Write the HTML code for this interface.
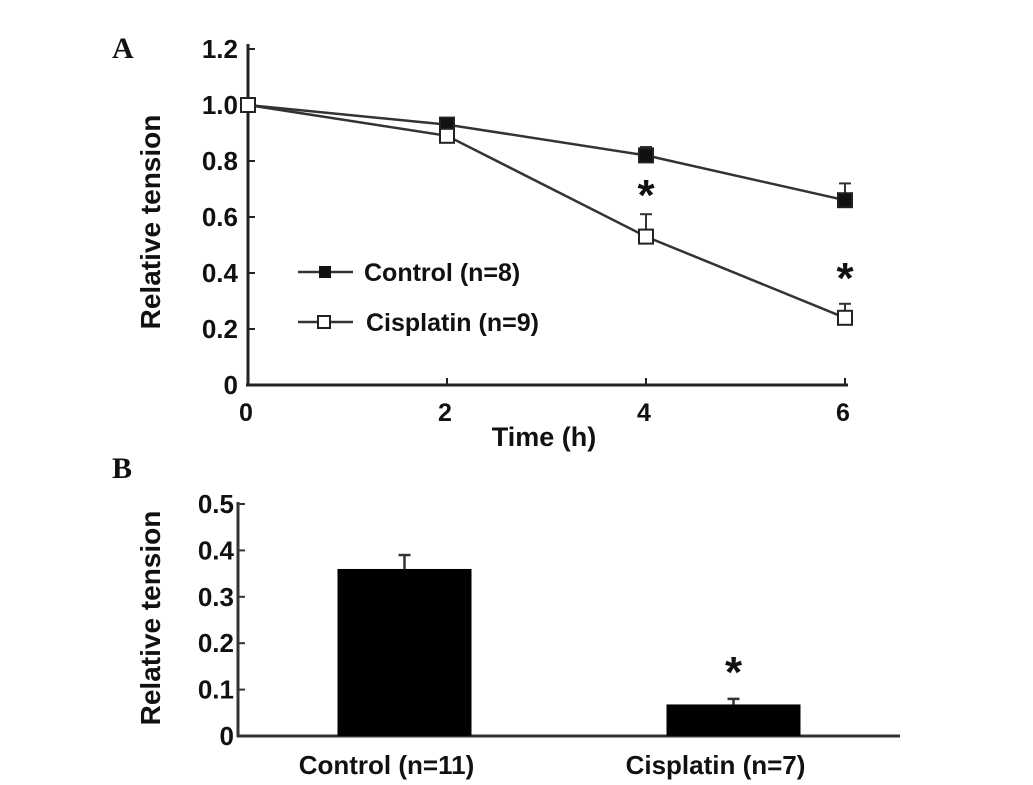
<!DOCTYPE html>
<html><head><meta charset="utf-8"><style>
body{margin:0;background:#fff;width:1033px;height:780px;overflow:hidden}
svg text{font-family:"Liberation Sans",Arial,sans-serif;font-weight:bold;fill:#111}
</style></head><body>
<svg id="chart" width="1033" height="780" xmlns="http://www.w3.org/2000/svg">
<text x="112" y="58" style="font-family:'Liberation Serif',serif;font-size:30px">A</text>
<text x="112" y="478" style="font-family:'Liberation Serif',serif;font-size:30px">B</text>
<g id="a"></g><g id="b"></g>
</svg>
<script>
const timeCats=[0,2,4,6];
const controlVals=[1.0,0.93,0.82,0.66];
const controlErr=[0,0.01,0.03,0.06];
const cisVals=[1.0,0.89,0.53,0.24];
const cisErr=[0,0.01,0.08,0.05];
const aYTicks=[0,0.2,0.4,0.6,0.8,1.0,1.2];
const aYLabels=["0","0.2","0.4","0.6","0.8","1.0","1.2"];
const barCats=["Control (n=11)","Cisplatin (n=7)"];
const barVals=[0.36,0.068];
const barErr=[0.03,0.012];
const bYTicks=[0,0.1,0.2,0.3,0.4,0.5];
const bYLabels=["0","0.1","0.2","0.3","0.4","0.5"];
const NS="http://www.w3.org/2000/svg";
function mk(p,t,a,txt){const e=document.createElementNS(NS,t);for(const k in a)e.setAttribute(k,a[k]);if(txt!==undefined)e.textContent=txt;p.appendChild(e);return e;}
// Panel A
const A=document.getElementById('a');
const ax=t=>248+t*(845-248)/6, ay=v=>385-v*(385-49)/1.2;
let e;
e=mk(A,'line',{x1:248,y1:44,x2:248,y2:386,stroke:'#222','stroke-width':3});

e=mk(A,'line',{x1:246,y1:385,x2:848,y2:385,stroke:'#222','stroke-width':3});

aYTicks.forEach((v,i)=>{mk(A,'line',{x1:248,y1:ay(v),x2:255,y2:ay(v),stroke:'#222','stroke-width':2});
e=mk(A,'text',{x:238,y:ay(v)+9,'text-anchor':'end','font-size':26},aYLabels[i]);
});
timeCats.forEach(t=>{mk(A,'line',{x1:ax(t),y1:385,x2:ax(t),y2:378,stroke:'#222','stroke-width':2});
e=mk(A,'text',{x:ax(t)-2,y:421,'text-anchor':'middle','font-size':25},String(t));
});
e=mk(A,'text',{x:544,y:446,'text-anchor':'middle','font-size':27},'Time (h)');

e=mk(A,'text',{x:0,y:0,'text-anchor':'middle','font-size':28,transform:'translate(160,222) rotate(-90)'},'Relative tension');

function series(vals,errs,filled,name){
 const pts=vals.map((v,i)=>ax(timeCats[i])+','+ay(v)).join(' ');
 e=mk(A,'polyline',{points:pts,fill:'none',stroke:'#333','stroke-width':2.5});
 
 vals.forEach((v,i)=>{const x=ax(timeCats[i]);
  if(errs[i]>0){mk(A,'line',{x1:x,y1:ay(v),x2:x,y2:ay(v+errs[i]),stroke:'#333','stroke-width':2});
   mk(A,'line',{x1:x-6,y1:ay(v+errs[i]),x2:x+6,y2:ay(v+errs[i]),stroke:'#333','stroke-width':2});}
  e=mk(A,'rect',{x:x-7,y:ay(v)-7,width:14,height:14,fill:filled?'#111':'#fff',stroke:'#222','stroke-width':2});
  });
}
series(controlVals,controlErr,true,'control');
series(cisVals,cisErr,false,'cisplatin');
[[4,cisVals[2]+cisErr[2]],[6,controlVals[3]+0.0]].forEach(([t,v],k)=>{
 e=mk(A,'text',{x:ax(t),y:k==0?ay(v)-4:ay(0.24)-25,'text-anchor':'middle','font-size':44,'font-weight':'normal'},'*');
 });
// legend
mk(A,'line',{x1:298,y1:272,x2:353,y2:272,stroke:'#333','stroke-width':2.5});
mk(A,'rect',{x:319,y:266,width:12,height:12,fill:'#111'});
e=mk(A,'text',{x:364,y:281,'font-size':25},'Control (n=8)');

mk(A,'line',{x1:298,y1:322,x2:353,y2:322,stroke:'#333','stroke-width':2.5});
mk(A,'rect',{x:318,y:316,width:12,height:12,fill:'#fff',stroke:'#222','stroke-width':2});
e=mk(A,'text',{x:366,y:331,'font-size':25},'Cisplatin (n=9)');

// Panel B
const B=document.getElementById('b');
const by=v=>736-v*(736-504)/0.5;
const bCenters=[404.5,733.5];const bw=134;
e=mk(B,'line',{x1:238,y1:502,x2:238,y2:737,stroke:'#333','stroke-width':3});

e=mk(B,'line',{x1:237,y1:736,x2:900,y2:736,stroke:'#333','stroke-width':3});

bYTicks.forEach((v,i)=>{mk(B,'line',{x1:238,y1:by(v),x2:245,y2:by(v),stroke:'#333','stroke-width':2});
 e=mk(B,'text',{x:234,y:by(v)+9,'text-anchor':'end','font-size':26},bYLabels[i]);
 });
e=mk(B,'text',{x:0,y:0,'text-anchor':'middle','font-size':28,transform:'translate(160,618) rotate(-90)'},'Relative tension');

barVals.forEach((v,i)=>{const c=bCenters[i];
 mk(B,'line',{x1:c,y1:by(v),x2:c,y2:by(v+barErr[i]),stroke:'#333','stroke-width':2.5});
 mk(B,'line',{x1:c-6,y1:by(v+barErr[i]),x2:c+6,y2:by(v+barErr[i]),stroke:'#333','stroke-width':2.5});
 e=mk(B,'rect',{x:c-bw/2,y:by(v),width:bw,height:736-by(v),fill:'#000'});
 
 e=mk(B,'text',{x:c-18,y:774,'text-anchor':'middle','font-size':26},barCats[i]);
 });
e=mk(B,'text',{x:bCenters[1],y:by(barVals[1]+barErr[1])-12,'text-anchor':'middle','font-size':44,'font-weight':'normal'},'*');

</script>
</body></html>
